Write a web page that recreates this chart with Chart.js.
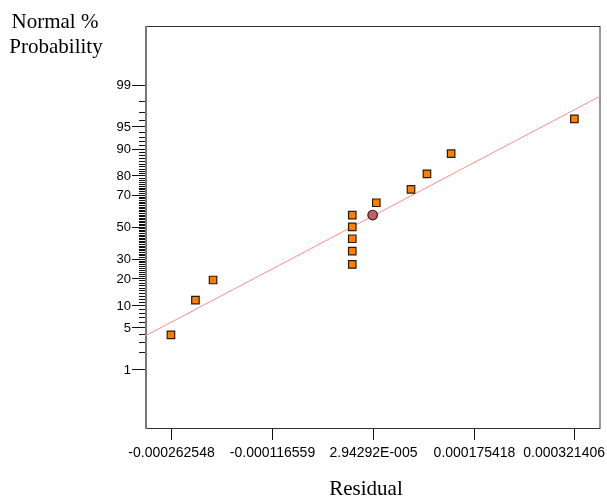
<!DOCTYPE html>
<html>
<head>
<meta charset="utf-8">
<script src="https://cdn.jsdelivr.net/npm/chart.js@4.4.0/dist/chart.umd.min.js"></script>
<style>
  html, body { margin: 0; padding: 0; background: #fff; }
  #wrap { width: 607px; height: 498px; position: relative; }
</style>
</head>
<body>
<div id="wrap"><canvas id="chart" width="607" height="498"></canvas></div>
<script>
// residuals (x) and their normal % probability (y)
const residuals = [-0.000262548, -0.0002271, -0.0002016, -0.0000001, -0.0000001, -0.0000001, -0.0000001, -0.0000001, 0.0000347, 0.0000849, 0.000108, 0.000143, 0.000321406];
const probabilities = [3.85, 11.54, 19.23, 26.92, 34.62, 42.31, 50.0, 57.69, 65.38, 73.08, 80.77, 88.46, 96.15];

// highlighted point
const centerX = [0.0000294292];
const centerPct = [57.7];

// fitted line end points
const fitX = [-0.0003001, 0.0003592];
const fitPct = [3.7, 98.4];

const xTickValues = [-0.000262548, -0.000116559, 0.0000294292, 0.000175418, 0.000321406];
const xTickLabels = ['-0.000262548', '-0.000116559', '2.94292E-005', '0.000175418', '0.000321406'];
const yLabelPcts = [1, 5, 10, 20, 30, 50, 70, 80, 90, 95, 99];

// inverse normal cdf (Acklam)
function probit(p) {
    const a = [-3.969683028665376e+01, 2.209460984245205e+02, -2.759285104469687e+02, 1.383577518672690e+02, -3.066479806614716e+01, 2.506628277459239e+00];
    const b = [-5.447609879822406e+01, 1.615858368580409e+02, -1.556989798598866e+02, 6.680131188771972e+01, -1.328068155288572e+01];
    const c = [-7.784894002430293e-03, -3.223964580411365e-01, -2.400758277161838e+00, -2.549732539343734e+00, 4.374664141464968e+00, 2.938163982698783e+00];
    const d = [7.784695709041462e-03, 3.224671290700398e-01, 2.445134137142996e+00, 3.754408661907416e+00];
    const pl = 0.02425;
    let q, r;
    if (p < pl) {
        q = Math.sqrt(-2 * Math.log(p));
        return (((((c[0]*q+c[1])*q+c[2])*q+c[3])*q+c[4])*q+c[5]) / ((((d[0]*q+d[1])*q+d[2])*q+d[3])*q+1);
    }
    if (p <= 1 - pl) {
        q = p - 0.5; r = q * q;
        return (((((a[0]*r+a[1])*r+a[2])*r+a[3])*r+a[4])*r+a[5])*q / (((((b[0]*r+b[1])*r+b[2])*r+b[3])*r+b[4])*r+1);
    }
    q = Math.sqrt(-2 * Math.log(1 - p));
    return -(((((c[0]*q+c[1])*q+c[2])*q+c[3])*q+c[4])*q+c[5]) / ((((d[0]*q+d[1])*q+d[2])*q+d[3])*q+1);
}
const z = pct => probit(pct / 100);
const toPoints = (xs, ps) => xs.map((x, i) => ({ x: x, y: z(ps[i]) }));

// axes, ticks, labels and frame
const axesPlugin = {
    id: 'axesPlugin',
    beforeDatasetsDraw(chart) {
        const { ctx, chartArea: a } = chart;
        ctx.save();
        ctx.strokeStyle = '#333';
        ctx.lineWidth = 1;
        ctx.strokeRect(a.left + 0.5, a.top + 0.5, a.right - a.left - 1, a.bottom - a.top - 1);
        ctx.strokeStyle = '#777';
        ctx.lineWidth = 2;
        ctx.beginPath();
        ctx.moveTo(a.left + 1, a.top);
        ctx.lineTo(a.left + 1, a.bottom);
        ctx.stroke();
        ctx.restore();
    },
    afterDraw(chart) {
        const { ctx, chartArea: a, scales } = chart;
        const xs = scales.x, ys = scales.y;
        ctx.save();
        ctx.strokeStyle = '#111';
        ctx.lineWidth = 1;

        // y ticks at every whole percent
        for (let p = 1; p <= 99; p++) {
            const y = Math.round(ys.getPixelForValue(z(p))) + 0.5;
            const major = yLabelPcts.includes(p);
            ctx.beginPath();
            ctx.moveTo(a.left - (major ? 13 : 6), y);
            ctx.lineTo(a.left, y);
            ctx.stroke();
        }
        ctx.fillStyle = '#000';
        ctx.font = '13px "Liberation Sans", Arial, sans-serif';
        ctx.textAlign = 'right';
        ctx.textBaseline = 'middle';
        yLabelPcts.forEach(p => {
            ctx.fillText(String(p), a.left - 14, ys.getPixelForValue(z(p)) + 1);
        });

        // x ticks
        ctx.font = '14px "Liberation Sans", Arial, sans-serif';
        ctx.textAlign = 'left';
        xTickValues.forEach((v, i) => {
            const x = Math.round(xs.getPixelForValue(v)) + 0.5;
            ctx.beginPath();
            ctx.moveTo(x, a.bottom);
            ctx.lineTo(x, a.bottom + 11);
            ctx.stroke();
            const w = ctx.measureText(xTickLabels[i]).width;
            let left = x - w / 2;
            if (left + w > chart.width - 2) left = chart.width - 2 - w;
            ctx.fillText(xTickLabels[i], left, a.bottom + 24);
        });

        // titles
        ctx.textAlign = 'center';
        ctx.font = '21px "Liberation Serif", "Times New Roman", serif';
        ctx.fillText('Residual', 366, 489);
        ctx.fillText('Normal %', 55, 22);
        ctx.fillText('Probability', 56, 47);
        ctx.restore();
    }
};

new Chart(document.getElementById('chart'), {
    type: 'scatter',
    data: {
        datasets: [
            {
                label: 'Fit',
                type: 'line',
                data: toPoints(fitX, fitPct),
                borderColor: '#ff8c8c',
                borderWidth: 1,
                pointRadius: 0,
                fill: false,
                order: 3
            },
            {
                label: 'Residuals',
                data: toPoints(residuals, probabilities),
                pointStyle: 'rect',
                pointRadius: 5.3,
                backgroundColor: '#ff8000',
                borderColor: '#2a1a0a',
                borderWidth: 1.2,
                order: 2
            },
            {
                label: 'Center',
                data: toPoints(centerX, centerPct),
                pointStyle: 'circle',
                pointRadius: 4.8,
                backgroundColor: '#c06060',
                borderColor: '#3a1a1a',
                borderWidth: 1.2,
                order: 1
            }
        ]
    },
    options: {
        responsive: false,
        animation: false,
        events: [],
        layout: { padding: { left: 145, right: 6, top: 26, bottom: 69 } },
        plugins: { legend: { display: false }, tooltip: { enabled: false } },
        scales: {
            x: { type: 'linear', display: false, min: -0.0003001, max: 0.0003592 },
            y: { type: 'linear', display: false, min: -3.31, max: 3.29 }
        }
    },
    plugins: [axesPlugin]
});
</script>
</body>
</html>
